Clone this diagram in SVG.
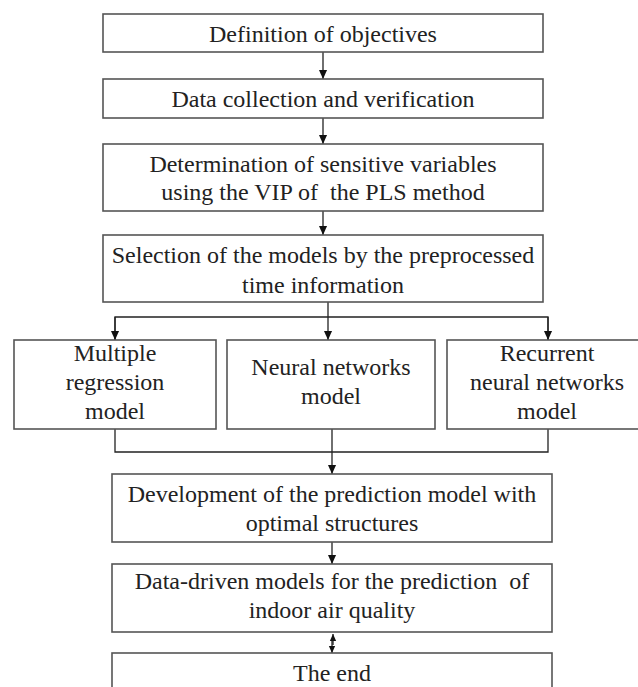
<svg xmlns="http://www.w3.org/2000/svg" width="638" height="687" viewBox="0 0 638 687">
<style>
.box{fill:#fff;stroke:#555;stroke-width:1.6}
.t{font-family:"Liberation Serif","Times New Roman",serif;font-size:24px;fill:#222;text-anchor:middle;white-space:pre}
.c{fill:none;stroke:#222;stroke-width:1.3}
</style>
<defs>
<marker id="ah" viewBox="0 0 10 10" refX="10" refY="5" markerWidth="9" markerHeight="9" markerUnits="userSpaceOnUse" orient="auto">
<path d="M0,0.5 L10,5 L0,9.5 Z" fill="#111"/>
</marker>
<marker id="sh" viewBox="0 0 10 10" refX="10" refY="5" markerWidth="7" markerHeight="8" markerUnits="userSpaceOnUse" orient="auto">
<path d="M0,0.5 L10,5 L0,9.5 Z" fill="#111"/>
</marker>
</defs>
<rect width="638" height="687" fill="#fff"/>
<g id="connectors">
<line class="c" x1="323" y1="52" x2="323" y2="79" marker-end="url(#ah)"/>
<line class="c" x1="323" y1="118" x2="323" y2="144" marker-end="url(#ah)"/>
<line class="c" x1="323" y1="211" x2="323" y2="235" marker-end="url(#ah)"/>
<line class="c" x1="328" y1="302" x2="328" y2="340" marker-end="url(#ah)"/>
<polyline class="c" points="115,340 115,317 548,317 548,340"/>
<line class="c" x1="115" y1="317" x2="115" y2="340" marker-end="url(#ah)"/>
<line class="c" x1="548" y1="317" x2="548" y2="340" marker-end="url(#ah)"/>
<polyline class="c" points="115,429 115,452 548,452 548,429"/>
<line class="c" x1="332" y1="429" x2="332" y2="474" marker-end="url(#ah)"/>
<line class="c" x1="332" y1="542" x2="332" y2="564" marker-end="url(#ah)"/>
<line class="c" x1="333" y1="645" x2="333" y2="634" marker-end="url(#sh)"/>
<line class="c" x1="332" y1="641" x2="332" y2="653" marker-end="url(#sh)"/>
</g>
<g id="n1"><rect class="box" x="103" y="14" width="440" height="38"/><text class="t" x="323" y="42">Definition of objectives</text></g>
<g id="n2"><rect class="box" x="103" y="79" width="440" height="39"/><text class="t" x="323" y="107">Data collection and verification</text></g>
<g id="n3"><rect class="box" x="103" y="144" width="440" height="67"/><text class="t" x="323" y="172">Determination of sensitive variables</text><text class="t" x="323" y="200" xml:space="preserve">using the VIP of  the PLS method</text></g>
<g id="n4"><rect class="box" x="103" y="235" width="440" height="67"/><text class="t" x="323" y="263">Selection of the models by the preprocessed</text><text class="t" x="323" y="293">time information</text></g>
<g id="n5"><rect class="box" x="14" y="340" width="202" height="89"/><text class="t" x="115" y="361">Multiple</text><text class="t" x="115" y="390">regression</text><text class="t" x="115" y="419">model</text></g>
<g id="n6"><rect class="box" x="227" y="340" width="208" height="89"/><text class="t" x="331" y="375">Neural networks</text><text class="t" x="331" y="404">model</text></g>
<g id="n7"><rect class="box" x="447" y="340" width="202" height="89"/><text class="t" x="547" y="361">Recurrent</text><text class="t" x="547" y="390">neural networks</text><text class="t" x="547" y="419">model</text></g>
<g id="n8"><rect class="box" x="112" y="474" width="440" height="68"/><text class="t" x="332" y="502">Development of the prediction model with</text><text class="t" x="332" y="531">optimal structures</text></g>
<g id="n9"><rect class="box" x="112" y="564" width="440" height="68"/><text class="t" x="332" y="589" xml:space="preserve">Data-driven models for the prediction  of</text><text class="t" x="332" y="618">indoor air quality</text></g>
<g id="n10"><rect class="box" x="112" y="653" width="440" height="50"/><text class="t" x="332" y="681">The end</text></g>
</svg>
